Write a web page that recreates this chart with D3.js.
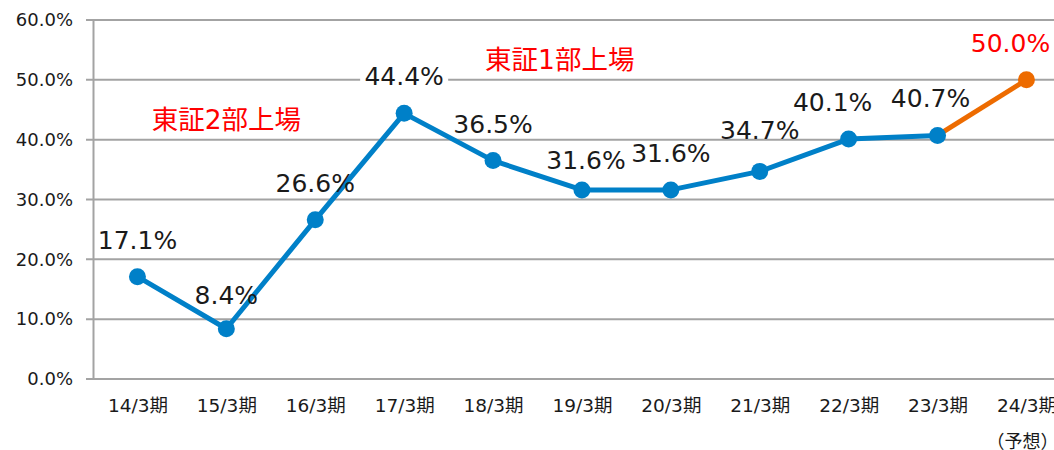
<!doctype html>
<html>
  <head>
    <meta charset="utf-8">
    <script src="https://cdn.jsdelivr.net/npm/d3@7"></script>
    <style>
      body { margin: 0; background: #fff; }
      svg { display: block; font-family: "DejaVu Sans", "Noto Sans CJK JP", sans-serif; }
    </style>
  </head>
  <body>
    <svg width="1054" height="450"></svg>

    <script type="text/javascript">

        // data
        var periods = ["14/3期", "15/3期", "16/3期", "17/3期", "18/3期", "19/3期", "20/3期", "21/3期", "22/3期", "23/3期", "24/3期"];
        var values = [17.1, 8.4, 26.6, 44.4, 36.5, 31.6, 31.6, 34.7, 40.1, 40.7, 50.0];
        var forecastFrom = 9;   // index where the orange (forecast) segment starts
        var yTicks = [0, 10, 20, 30, 40, 50, 60];
        var notes = [
            {text: "東証2部上場", at: 1, v: 50},
            {text: "東証1部上場", at: 4.75, v: 60}
        ];

        var svg = d3.select("svg");
        var width = +svg.attr("width");
        var fontStack = "DejaVu Sans, Noto Sans CJK JP, sans-serif";

        var blue = "#0080c8", orange = "#ed6b00", grid = "#a3a3a3";

        var x = d3.scalePoint()
            .domain(periods)
            .range([93, 93 + 88.9 * 11])
            .padding(0.5);

        var y = d3.scaleLinear()
            .domain([0, 60])
            .range([379, 20]);

        // gridlines
        svg.append("g")
            .selectAll("line")
            .data(yTicks)
            .join("line")
            .attr("x1", 86).attr("x2", width)
            .attr("y1", d => y(d)).attr("y2", d => y(d))
            .attr("stroke", grid)
            .attr("stroke-width", 2);

        // y axis
        var yAxis = svg.append("g")
            .attr("transform", "translate(93,0)")
            .call(d3.axisLeft(y).tickValues(yTicks).tickSize(0).tickPadding(20)
                .tickFormat(d => d.toFixed(1) + "%"));
        yAxis.attr("font-family", fontStack);
        yAxis.select(".domain").attr("stroke", grid).attr("stroke-width", 2);
        yAxis.selectAll("text")
            .attr("font-size", 18)
            .attr("fill", "#1a1a1a");

        // x axis labels
        var xAxis = svg.append("g")
            .attr("transform", "translate(0,379)")
            .call(d3.axisBottom(x).tickSize(0).tickPadding(20));
        xAxis.attr("font-family", fontStack);
        xAxis.select(".domain").remove();
        xAxis.selectAll("text")
            .attr("font-size", 18.5)
            .attr("fill", "#1a1a1a");

        svg.append("text")
            .attr("x", x(periods[10]) - 4)
            .attr("y", 448)
            .attr("text-anchor", "middle")
            .attr("font-size", 18)
            .attr("fill", "#1a1a1a")
            .text("（予想）");

        var pts = periods.map((p, i) => ({p: p, v: values[i], i: i}));

        // value labels
        var labelDx = {5: 4, 8: -16, 9: -7, 10: -16};
        var labelDy = {1: -34, 5: -30, 7: -41};
        var labels = svg.append("g");

        var line = d3.line().x(d => x(d.p)).y(d => y(d.v));

        svg.append("path")
            .datum(pts.slice(forecastFrom))
            .attr("d", line)
            .attr("fill", "none")
            .attr("stroke", orange)
            .attr("stroke-width", 5);

        svg.append("path")
            .datum(pts.slice(0, forecastFrom + 1))
            .attr("d", line)
            .attr("fill", "none")
            .attr("stroke", blue)
            .attr("stroke-width", 5)
            .attr("stroke-linejoin", "round");

        svg.append("g")
            .selectAll("circle")
            .data(pts)
            .join("circle")
            .attr("cx", d => x(d.p))
            .attr("cy", d => y(d.v))
            .attr("r", 8.5)
            .attr("fill", d => d.i > forecastFrom ? orange : blue);

        var lab = labels.selectAll("g")
            .data(pts)
            .join("g")
            .attr("transform", d => "translate(" + (x(d.p) + (labelDx[d.i] || 0)) + "," + (y(d.v) + (labelDy[d.i] || -37)) + ")");

        lab.append("rect")
            .attr("x", -44).attr("y", -14)
            .attr("width", 88).attr("height", 28)
            .attr("fill", d => d.i == 3 ? "#fff" : "none");

        svg.append("g")
            .selectAll("text")
            .data(pts)
            .join("text")
            .attr("x", d => x(d.p) + (labelDx[d.i] || 0))
            .attr("y", d => y(d.v) + (labelDy[d.i] || -37) + 9)
            .attr("text-anchor", "middle")
            .attr("font-size", 25)
            .attr("font-family", "DejaVu Sans")
            .attr("fill", d => d.i > forecastFrom ? "#ff0000" : "#1a1a1a")
            .text(d => d.v.toFixed(1) + "%");

        // listing notes
        svg.append("g")
            .selectAll("text")
            .data(notes)
            .join("text")
            .attr("x", d => x(periods[0]) + d.at * x.step())
            .attr("y", d => y(d.v) + 49)
            .attr("text-anchor", "middle")
            .attr("font-size", 26.5)
            .attr("fill", "#ff0000")
            .text(d => d.text);

    </script>
  </body>
</html>
